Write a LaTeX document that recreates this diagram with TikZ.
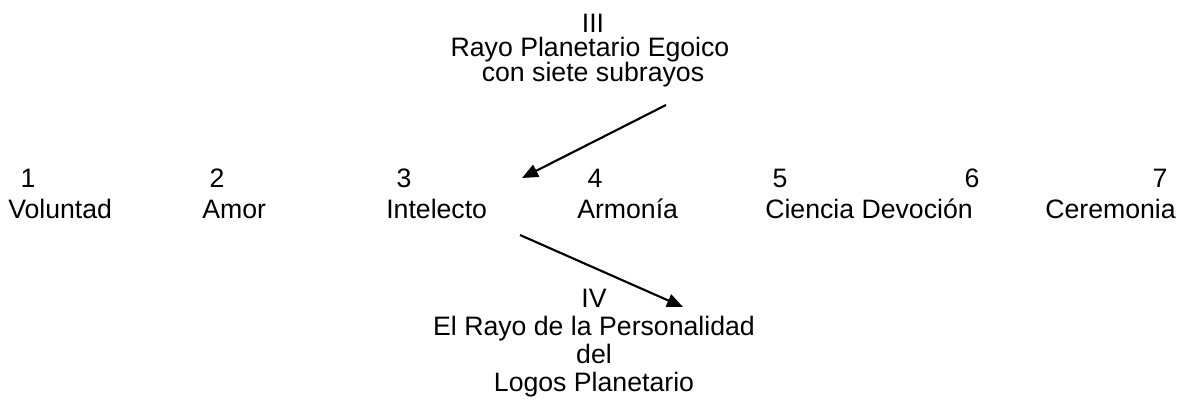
\documentclass[tikz,border=0pt]{standalone}
\usepackage{fontspec}
\setmainfont{Liberation Sans}
\usetikzlibrary{arrows.meta}
\tikzset{
  lbl/.style={inner sep=0pt, anchor=base, font=\fontsize{20pt}{24pt}\selectfont},
  num/.style={inner sep=0pt, anchor=base, font=\fontsize{20pt}{24pt}\selectfont},
  word/.style={inner sep=0pt, anchor=base west, font=\fontsize{20pt}{24pt}\selectfont},
  ray/.style={line width=1.6pt, -{Triangle[length=12pt,width=10pt]}}
}
\begin{document}
\begin{tikzpicture}[x=0.75pt,y=-0.75pt]
\useasboundingbox (0,0) rectangle (1181,403);
% top block
\node[lbl] (t1) at (593,33) {III};
\node[lbl] (t2) at (590,57) {Rayo Planetario Egoico};
\node[lbl] (t3) at (593,81) {con siete subrayos};
% numbers
\node[num] (n1) at (28,187) {1};
\node[num] (n2) at (217,187) {2};
\node[num] (n3) at (404,187) {3};
\node[num] (n4) at (595,187) {4};
\node[num] (n5) at (780,187) {5};
\node[num] (n6) at (972,187) {6};
\node[num] (n7) at (1160,187) {7};
% words
\node[word] (w1) at (8,218) {Voluntad};
\node[word] (w2) at (202,218) {Amor};
\node[word] (w3) at (386,218) {Intelecto};
\node[word] (w4) at (577,218) {Armonía};
\node[word] (w5) at (765,218) {Ciencia Devoción};
\node[word, anchor=base east] (w7) at (1176,218) {Ceremonia};
% bottom block
\node[lbl] (b1) at (594,307) {IV};
\node[lbl] (b2) at (594,335) {El Rayo de la Personalidad};
\node[lbl] (b3) at (594,363) {del};
\node[lbl] (b4) at (594,391) {Logos Planetario};
% arrows
\coordinate (a1s) at (666,105);
\coordinate (a1e) at (522,178);
\coordinate (a2s) at (520,235);
\coordinate (a2e) at (683,307);
\draw[ray] (a1s) -- (a1e);
\draw[ray] (a2s) -- (a2e);
\end{tikzpicture}
\end{document}
